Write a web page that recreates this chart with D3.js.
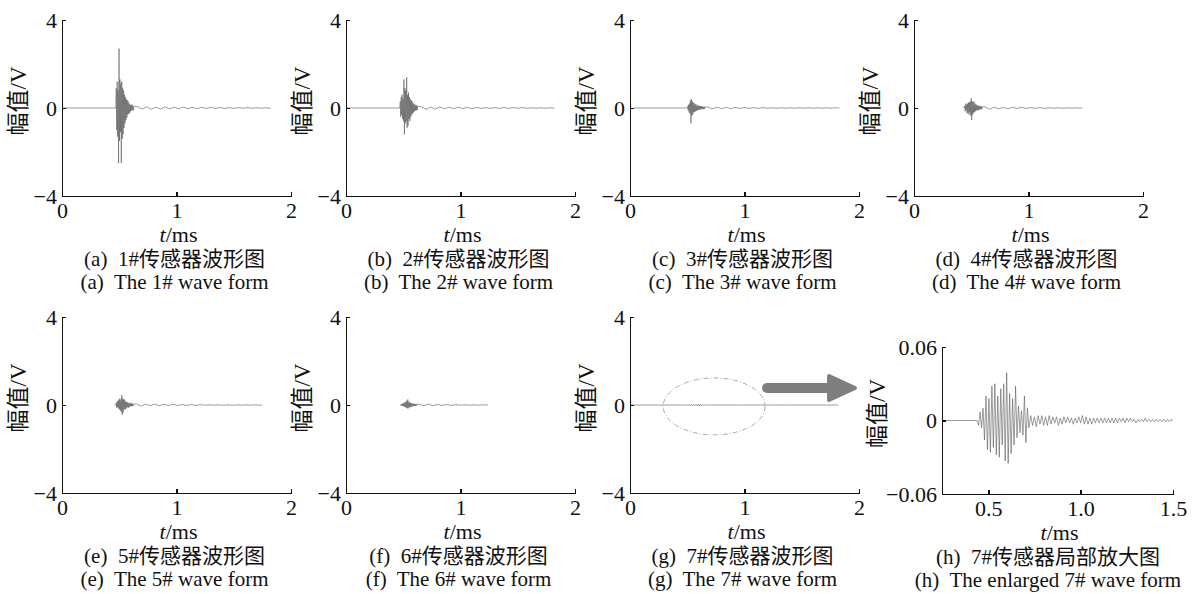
<!DOCTYPE html>
<html lang="zh">
<head>
<meta charset="UTF-8">
<title>传感器波形图</title>
<script src="https://cdn.jsdelivr.net/npm/d3@7"></script>
<style>
  body { margin: 0; background: #fff; }
  svg { display: block; background: #fff; }
  text { fill: #111; }
  .axis path, .axis line { stroke: #111; stroke-width: 1.6; shape-rendering: crispEdges; }
  .wave { fill: none; stroke: #5a5a5a; stroke-width: 0.6; stroke-linejoin: round; }
  .cap { white-space: pre; }
</style>
</head>
<body>
<svg id="chart"></svg>
<script>
var serif = "'Liberation Serif', 'Noto Sans CJK SC', serif";

// sampling steps of the hand-read waveforms (ms)
var burstStep = 0.004, tailStep = 0.04, burst7Step = 0.008, tail7Step = 0.01;

// 1# .. 6# sensors: burst values (V) and decaying tail values (V)
var w1Burst = [0, 0.9, -1.0, 1.2, -1.3, 0.8, -2.5, 2.7, -1.5, 1.3, -1.1, 1.1, -2.5, 1.2, -1.4, 0.9, -1.2, 0.8, -0.9, 0.6,
  -0.7, 0.5, -0.55, 0.4, -0.45, 0.35, -0.3, 0.3, -0.25, 0.2, -0.25, 0.15, -0.15, 0.15, -0.12, 0.15, -0.1, 0.1, -0.12, 0.08];
var w1Tail = [0.06, -0.05, 0.05, -0.06, 0.04, -0.05, 0.05, -0.04, 0.04, -0.03, 0.04, -0.03, 0.03, -0.03, 0.03,
  -0.02, 0.03, -0.02, 0.02, -0.02, 0.02, -0.02, 0.02, -0.01, 0.02, -0.01, 0.01, -0.01, 0.01, -0.01];

var w2Burst = [0, 0.3, -0.4, 0.5, -0.3, 0.6, -0.5, 0.4, -0.6, 1.3, -1.2, 0.9, -0.7, 0.8, -0.6, 1.4, -0.9, 0.6, -0.8, 0.7,
  -0.5, 0.5, -0.6, 0.4, -0.4, 0.35, -0.3, 0.3, -0.25, 0.2, -0.2, 0.2, -0.15, 0.15, -0.12, 0.12, -0.1, 0.12, -0.1, 0.08];
var w2Tail = [0.05, -0.06, 0.04, -0.05, 0.05, -0.04, 0.04, -0.03, 0.04, -0.03, 0.03, -0.03, 0.03, -0.02, 0.02,
  -0.02, 0.02, -0.02, 0.02, -0.02, 0.02, -0.01, 0.02, -0.01, 0.01, -0.01, 0.01, -0.01, 0.01, -0.01];

var w3Burst = [0, 0.08, -0.1, 0.15, -0.2, 0.2, -0.25, 0.35, -0.7, 0.4, -0.35, 0.3, -0.3, 0.25, -0.2, 0.22, -0.18, 0.15, -0.15, 0.18,
  -0.12, 0.1, -0.12, 0.12, -0.08, 0.1, -0.08, 0.1, -0.06, 0.08, -0.06, 0.07, -0.05, 0.08, -0.06, 0.05, -0.04, 0.06, -0.04, 0.04];
var w3Tail = [0.05, -0.04, 0.04, -0.03, 0.03, -0.03, 0.03, -0.02, 0.02, -0.02, 0.02, -0.02, 0.02, -0.01, 0.01,
  -0.01, 0.01, -0.01, 0.01, -0.01, 0.01, -0.01, 0.01, -0.01, 0.01, -0.01, 0.01, -0.01, 0.01];

var w4Burst = [0, 0.1, -0.15, 0.2, -0.1, 0.15, -0.25, 0.2, -0.2, 0.25, -0.3, 0.25, -0.2, 0.3, -0.35, 0.45, -0.55, 0.3, -0.3, 0.25,
  -0.2, 0.3, -0.2, 0.15, -0.15, 0.2, -0.12, 0.12, -0.1, 0.12, -0.1, 0.08, -0.08, 0.1, -0.07, 0.08, -0.06, 0.07, -0.05, 0.06];
var w4Tail = [0.05, -0.05, 0.04, -0.04, 0.03, -0.03, 0.03, -0.02, 0.03, -0.02, 0.02, -0.02, 0.02, -0.02, 0.01,
  -0.01, 0.01, -0.01, 0.01, -0.01, 0.01, -0.01];

var w5Burst = [0, 0.1, -0.12, 0.15, -0.1, 0.2, -0.15, 0.25, -0.2, 0.3, -0.25, 0.2, -0.3, 0.45, -0.45, 0.3, -0.35, 0.25, -0.2, 0.25,
  -0.2, 0.15, -0.18, 0.15, -0.12, 0.12, -0.1, 0.1, -0.12, 0.08, -0.08, 0.1, -0.06, 0.08, -0.06, 0.06, -0.05, 0.06, -0.04, 0.05];
var w5Tail = [0.04, -0.05, 0.04, -0.03, 0.04, -0.03, 0.03, -0.02, 0.03, -0.02, 0.02, -0.02, 0.02, -0.02, 0.02,
  -0.01, 0.01, -0.01, 0.01, -0.01, 0.01, -0.01, 0.01, -0.01, 0.01, -0.01, 0.01, -0.01];

var w6Burst = [0, 0.04, -0.05, 0.06, -0.04, 0.08, -0.06, 0.1, -0.08, 0.12, -0.1, 0.15, -0.12, 0.2, -0.15, 0.25, -0.15, 0.12,
  -0.1, 0.15, -0.1, 0.08, -0.1, 0.08, -0.06, 0.07, -0.06, 0.05, -0.05, 0.06, -0.04, 0.05, -0.04, 0.04, -0.03, 0.04];
var w6Tail = [0.03, -0.03, 0.04, -0.03, 0.03, -0.02, 0.02, -0.02, 0.02, -0.01, 0.01, -0.01, 0.01, -0.01, 0.01];

// 7# sensor (read from the enlarged view)
var w7Burst = [0, -0.004, 0.007, -0.006, 0.01, -0.016, 0.02, -0.024, 0.018, -0.026,
  0.028, -0.022, 0.03, -0.028, 0.02, -0.03, 0.026, -0.02, 0.03, -0.033,
  0.039, -0.035, 0.022, -0.027, 0.018, -0.02, 0.028, -0.014, 0.012, -0.01,
  0.008, -0.012, 0.02, -0.018, 0.01, -0.006];
var w7Tail = [0.004, -0.004, 0.003, -0.005, 0.004, -0.003, 0.004, -0.004, 0.003, -0.004,
  0.004, -0.003, 0.003, -0.002, 0.003, -0.004, 0.002, -0.003, 0.003, -0.002,
  0.003, -0.002, 0.002, -0.003, 0.002, -0.002, 0.003, -0.002, 0.004, -0.003,
  0.003, -0.003, 0.002, -0.003, 0.002, -0.002, 0.002, -0.002, 0.002, -0.002,
  0.002, -0.002, 0.002, -0.002, 0.002, -0.002, 0.002, -0.002, 0.002, -0.001,
  0.002, -0.002, 0.002, -0.001, 0.002, -0.001, 0.001, -0.002, 0.001, -0.001,
  0.001, -0.001, 0.002, -0.001, 0.001, -0.001, 0.001, -0.001, 0.001, -0.001,
  0.001, -0.001, 0.001, -0.001, 0.001, -0.001, 0.001, -0.001, 0];

// start / burst start / tail start / end times (ms) for each sensor
var leadStart = [0, 0, 0.03, 0.43, 0.46, 0.47, 0];
var burstStart = [0.47, 0.47, 0.50, 0.44, 0.47, 0.48, 0.44];
var tailStart = [0.66, 0.66, 0.68, 0.62, 0.65, 0.64, 0.73];
var signalEnd = [1.82, 1.82, 1.83, 1.47, 1.75, 1.24, 1.82];

var captionsZh = ["(a)  1#传感器波形图", "(b)  2#传感器波形图", "(c)  3#传感器波形图", "(d)  4#传感器波形图",
  "(e)  5#传感器波形图", "(f)  6#传感器波形图", "(g)  7#传感器波形图", "(h)  7#传感器局部放大图"];
var captionsEn = ["(a)  The 1# wave form", "(b)  The 2# wave form", "(c)  The 3# wave form", "(d)  The 4# wave form",
  "(e)  The 5# wave form", "(f)  The 6# wave form", "(g)  The 7# wave form", "(h)  The enlarged 7# wave form"];

var yTicks = [-4, 0, 4], xTicks = [0, 1, 2];
var yTicksZoom = [-0.06, 0, 0.06], xTicksZoom = [0.5, 1.0, 1.5];

var bursts = [w1Burst, w2Burst, w3Burst, w4Burst, w5Burst, w6Burst, w7Burst];
var tails = [w1Tail, w2Tail, w3Tail, w4Tail, w5Tail, w6Tail, w7Tail];

function series(i) {
  var pts = [[leadStart[i], 0]];
  var bdt = i === 6 ? burst7Step : burstStep;
  var tdt = i === 6 ? tail7Step : tailStep;
  bursts[i].forEach(function(v, k) { pts.push([burstStart[i] + k * bdt, v]); });
  tails[i].forEach(function(v, k) { pts.push([tailStart[i] + k * tdt, v]); });
  pts.push([signalEnd[i], 0]);
  return pts;
}

var svg = d3.select("#chart").attr("width", 1200).attr("height", 594);

var cols = [62, 346, 630, 914], rows = [20, 317];
var pw = 229, ph = 176;

function drawPanel(opt) {
  var g = svg.append("g").attr("transform", "translate(" + opt.left + "," + opt.top + ")");
  var x = d3.scaleLinear().domain(opt.xDomain).range([0, opt.w]);
  var y = d3.scaleLinear().domain(opt.yDomain).range([opt.h, 0]);

  var clipId = "clip" + opt.idx;
  g.append("clipPath").attr("id", clipId)
    .append("rect").attr("x", 0).attr("y", -2).attr("width", opt.w).attr("height", opt.h + 4);

  var line = d3.line().x(function(d) { return x(d[0]); }).y(function(d) { return y(d[1]); });
  g.append("path").attr("class", "wave")
    .attr("clip-path", "url(#" + clipId + ")")
    .attr("d", line(series(opt.sig)));

  g.append("g").attr("class", "axis")
    .call(d3.axisLeft(y).tickValues(opt.yTicks).tickSize(-4).tickSizeOuter(0).tickPadding(5).tickFormat(opt.yFmt))
    .attr("font-family", serif).attr("font-size", 22);
  g.append("g").attr("class", "axis")
    .attr("transform", "translate(0," + opt.h + ")")
    .call(d3.axisBottom(x).tickValues(opt.xTicks).tickSize(-4).tickSizeOuter(0).tickPadding(6).tickFormat(opt.xFmt))
    .attr("font-family", serif).attr("font-size", 22);

  // y label
  g.append("text")
    .attr("transform", "translate(" + opt.yLabX + "," + (opt.h / 2 - 7) + ") rotate(-90)")
    .attr("text-anchor", "middle").attr("dy", "0.35em")
    .attr("font-family", serif).attr("font-size", 23)
    .text("幅值/V");

  // x label
  var xl = g.append("text").attr("x", opt.w / 2 + 2).attr("y", opt.h + 46)
    .attr("text-anchor", "middle").attr("font-family", serif).attr("font-size", 22);
  xl.append("tspan").style("font-style", "italic").text("t");
  xl.append("tspan").text("/ms");

  g.append("text").attr("class", "cap").attr("x", opt.capX).attr("y", opt.h + 70)
    .attr("text-anchor", "middle").attr("font-family", serif).attr("font-size", 21)
    .text(captionsZh[opt.idx]);
  g.append("text").attr("class", "cap").attr("x", opt.capX).attr("y", opt.h + 93)
    .attr("text-anchor", "middle").attr("font-family", serif).attr("font-size", 21)
    .text(captionsEn[opt.idx]);

  return { g: g, x: x, y: y };
}

var panelG;
for (var i = 0; i < 7; i++) {
  var p = drawPanel({
    idx: i, sig: i, left: cols[i % 4], top: rows[Math.floor(i / 4)], w: pw, h: ph,
    xDomain: [0, 2], yDomain: [-4, 4], yTicks: yTicks, xTicks: xTicks,
    yFmt: d3.format("d"), xFmt: d3.format("d"), yLabX: -44, capX: pw / 2 - 2
  });
  if (i === 6) panelG = p;
}

drawPanel({
  idx: 7, sig: 6, left: 942, top: 347, w: 231, h: 147,
  xDomain: [0.25, 1.5], yDomain: [-0.06, 0.06], yTicks: yTicksZoom, xTicks: xTicksZoom,
  yFmt: function(d) { return d === 0 ? "0" : d3.format(".2f")(d); }, xFmt: d3.format(".1f"),
  yLabX: -65, capX: 106
});

// dashed ellipse around the 7# signal and the arrow to the enlarged view
panelG.g.append("ellipse")
  .attr("cx", (panelG.x(0.29) + panelG.x(1.18)) / 2)
  .attr("cy", (panelG.y(1.23) + panelG.y(-1.36)) / 2)
  .attr("rx", (panelG.x(1.18) - panelG.x(0.29)) / 2)
  .attr("ry", (panelG.y(-1.36) - panelG.y(1.23)) / 2)
  .attr("fill", "none").attr("stroke", "#aaa").attr("stroke-width", 1)
  .attr("stroke-dasharray", "5,2,1,2");

var arrow = svg.append("g").attr("fill", "#7f7f7f").attr("stroke", "#7f7f7f");
arrow.append("line").attr("x1", 767).attr("y1", 388).attr("x2", 832).attr("y2", 388)
  .attr("stroke-width", 10).attr("stroke-linecap", "round");
arrow.append("path").attr("d", "M829,376 L855,388 L829,400 Z")
  .attr("stroke-width", 4).attr("stroke-linejoin", "round");
</script>
</body>
</html>
